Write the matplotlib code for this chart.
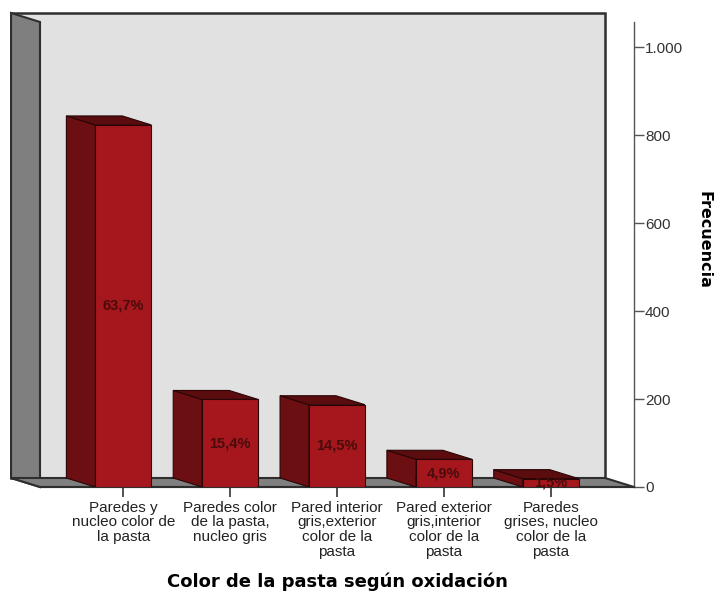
import matplotlib.pyplot as plt
from matplotlib.patches import Polygon, Rectangle
from matplotlib.ticker import FuncFormatter

categories = ['Paredes y\nnucleo color de\nla pasta',
              'Paredes color\nde la pasta,\nnucleo gris',
              'Pared interior\ngris,exterior\ncolor de la\npasta',
              'Pared exterior\ngris,interior\ncolor de la\npasta',
              'Paredes\ngrises, nucleo\ncolor de la\npasta']
counts = [823, 199, 187, 63, 19]
yticks = [0, 200, 400, 600, 800, 1000]

total = sum(counts)
pcts = [c * 100.0 / total for c in counts]

plt.rcParams['font.family'] = ['Liberation Sans', 'DejaVu Sans']

front_c = '#a5171d'
side_c = '#6b0f12'
top_c = '#5a0c0e'
edge_c = '#2a0505'

fig = plt.figure(figsize=(7.19, 5.97), dpi=100)
ax = fig.add_axes([40 / 719, 110 / 597, 594 / 719, 465 / 597])
ax.patch.set_visible(False)

xmin, xmax = -0.78, 4.78
ymax = 1057
ax.set_xlim(xmin, xmax)
ax.set_ylim(0, ymax)

# depth offset of the box in data units (back plane is up and to the left)
dx = -29 / 107.0
dy = 9 / 0.44

# back wall
ax.add_patch(Polygon([(xmin + dx, dy), (xmax + dx, dy), (xmax + dx, ymax + dy), (xmin + dx, ymax + dy)],
                     closed=True, fc='#e1e1e1', ec='#2e2e2e', lw=1.8, clip_on=False, zorder=1))
# left wall
ax.add_patch(Polygon([(xmin + dx, dy), (xmin, 0), (xmin, ymax), (xmin + dx, ymax + dy)],
                     closed=True, fc='#7f7f7f', ec='#2e2e2e', lw=1.5, clip_on=False, zorder=2))
# floor
ax.add_patch(Polygon([(xmin + dx, dy), (xmax + dx, dy), (xmax, 0), (xmin, 0)],
                     closed=True, fc='#808080', ec='#2e2e2e', lw=1.5, clip_on=False, zorder=2))

w = 0.262
for i, (v, p) in enumerate(zip(counts, pcts)):
    l, r = i - w, i + w
    ax.add_patch(Polygon([(l, 0), (l, v), (l + dx, v + dy), (l + dx, dy)],
                         closed=True, fc=side_c, ec=edge_c, lw=0.8, zorder=3))
    ax.add_patch(Polygon([(l, v), (r, v), (r + dx, v + dy), (l + dx, v + dy)],
                         closed=True, fc=top_c, ec=edge_c, lw=0.8, zorder=3))
    ax.add_patch(Rectangle((l, 0), 2 * w, v, fc=front_c, ec=edge_c, lw=0.8, zorder=4))
    ax.text(i, v / 2, ('%.1f%%' % p).replace('.', ','), ha='center', va='center',
            fontsize=10.5, fontweight='bold', color='#4a0b0b', zorder=5)

for s in ['top', 'left']:
    ax.spines[s].set_visible(False)
ax.spines['bottom'].set_color('#2e2e2e')
ax.spines['bottom'].set_linewidth(1.5)
ax.spines['right'].set_color('#555555')
ax.spines['right'].set_linewidth(1.0)

ax.yaxis.tick_right()
ax.set_yticks(yticks)
ax.yaxis.set_major_formatter(FuncFormatter(lambda v, pos: '{:,.0f}'.format(v).replace(',', '.')))
ax.tick_params(axis='y', direction='out', length=7, width=1, color='#555555',
               labelsize=11, labelcolor='#333333', pad=1)

ax.set_xticks(range(len(categories)))
ax.set_xticklabels(categories, linespacing=1.05)
ax.tick_params(axis='x', direction='out', length=7, width=1.2, color='#333333',
               labelsize=11, labelcolor='#222222', pad=3)

ax.set_xlabel('Color de la pasta según oxidación', fontsize=13, fontweight='bold',
              family='DejaVu Sans', labelpad=10)
ax.yaxis.set_label_position('right')
ax.set_ylabel('Frecuencia', fontsize=11.5, fontweight='bold', family='DejaVu Sans',
              rotation=270)
ax.yaxis.set_label_coords(1.13, 0.531)

fig.savefig('out.png', dpi=100)
